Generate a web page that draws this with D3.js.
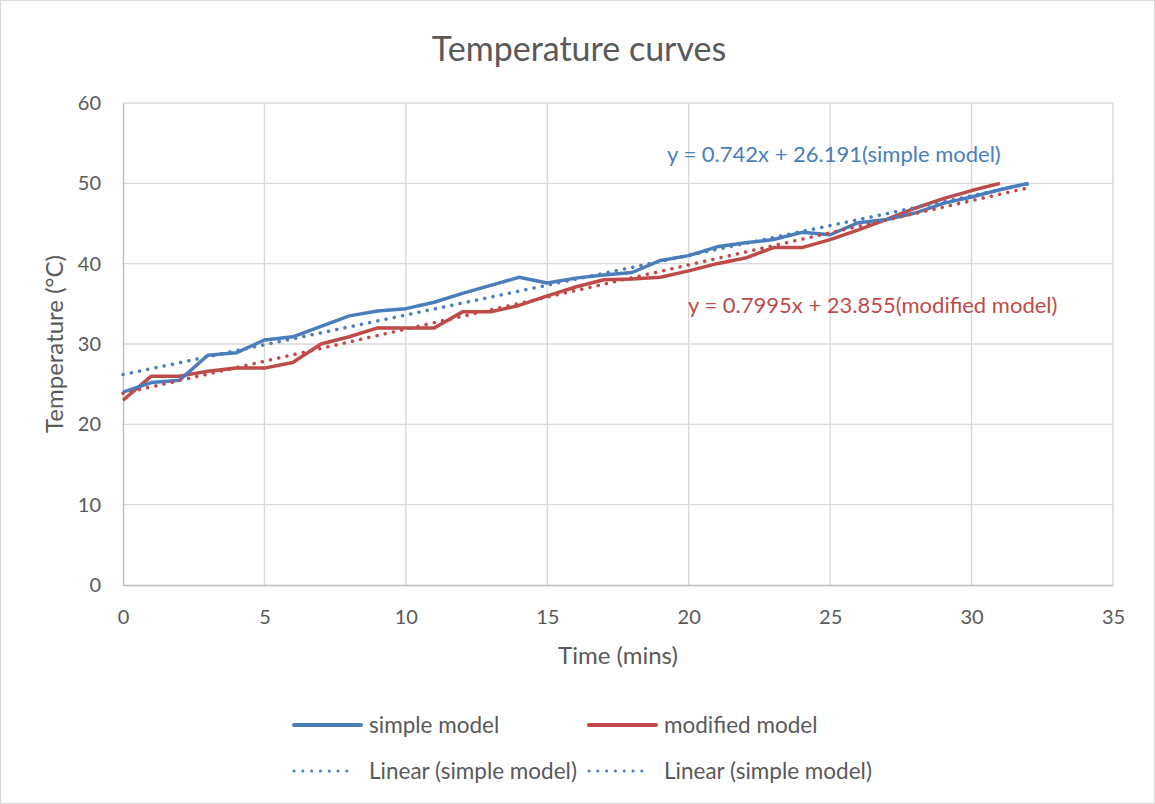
<!DOCTYPE html>
<meta charset="utf-8">
<style>
body { margin: 0; background: #fff; }
svg { font-family: Lato, "Open Sans", sans-serif; }
</style>
<svg width="1155" height="804"></svg>
<script src="https://d3js.org/d3.v7.min.js"></script>
<script>
// temperature readings, one per minute
var timeSimple = d3.range(0, 33);
var tempSimple = [24, 25.2, 25.5, 28.6, 28.9, 30.5, 30.9, 32.2, 33.5, 34.1, 34.4, 35.2,
  36.3, 37.3, 38.3, 37.6, 38.2, 38.6, 38.9, 40.4, 41.0, 42.1, 42.6, 43.0,
  43.9, 43.6, 45.1, 45.5, 46.3, 47.5, 48.3, 49.2, 50.0];
var timeModified = d3.range(0, 32);
var tempModified = [23, 26, 26, 26.6, 27, 27, 27.7, 30, 30.9, 32, 32, 32,
  34, 34, 34.8, 36, 37.1, 38, 38.1, 38.3, 39.1, 40, 40.7, 42,
  42, 43, 44.2, 45.5, 46.9, 48.1, 49.1, 50];

// trendlines (from Excel)
var trendSimple = { slope: 0.742, intercept: 26.191, label: "y = 0.742x + 26.191(simple model)" };
var trendModified = { slope: 0.7995, intercept: 23.855, label: "y = 0.7995x + 23.855(modified model)" };
var trendRange = [0, 32];

var legendLabels = ["simple model", "modified model", "Linear (simple model)", "Linear (simple model)"];

var blue = "#4A7EBB", red = "#BE4B48", textGrey = "#595959", grid = "#D9D9D9";

var svg = d3.select("svg");

svg.append("rect")
    .attr("x", 0.5).attr("y", 0.5)
    .attr("width", 1154).attr("height", 803)
    .attr("fill", "#fff").attr("stroke", grid);

var x = d3.scaleLinear().domain([0, 35]).range([123, 1113]);
var y = d3.scaleLinear().domain([0, 60]).range([585, 103]);

// gridlines
svg.append("g")
    .attr("stroke", grid).attr("stroke-width", 1.4)
  .selectAll("line.h")
  .data(d3.range(10, 61, 10))
  .join("line")
    .attr("x1", x(0)).attr("x2", x(35))
    .attr("y1", d => y(d)).attr("y2", d => y(d));

svg.append("g")
    .attr("stroke", grid).attr("stroke-width", 1.4)
  .selectAll("line")
  .data(d3.range(5, 36, 5))
  .join("line")
    .attr("x1", d => x(d)).attr("x2", d => x(d))
    .attr("y1", y(0)).attr("y2", y(60));

// axes
var xAxis = svg.append("g")
    .attr("transform", "translate(0," + y(0) + ")")
    .call(d3.axisBottom(x).tickValues(d3.range(0, 36, 5)).tickSize(0).tickPadding(25));
var yAxis = svg.append("g")
    .attr("transform", "translate(" + x(0) + ",0)")
    .call(d3.axisLeft(y).tickValues(d3.range(0, 61, 10)).tickSize(0).tickPadding(22));

[xAxis, yAxis].forEach(function(a) {
  a.attr("font-family", null).attr("font-size", 20);
  a.select(".domain").attr("stroke", "#BFBFBF").attr("stroke-width", 1.4);
  a.selectAll("text").attr("fill", textGrey);
});

// titles
svg.append("text")
    .attr("x", 579).attr("y", 61)
    .attr("text-anchor", "middle")
    .attr("font-size", 34)
    .attr("fill", textGrey)
    .text("Temperature curves");

svg.append("text")
    .attr("x", 618).attr("y", 664)
    .attr("text-anchor", "middle")
    .attr("font-size", 24)
    .attr("fill", textGrey)
    .text("Time (mins)");

svg.append("text")
    .attr("transform", "translate(63," + ((y(0) + y(60)) / 2) + ") rotate(-90)")
    .attr("text-anchor", "middle")
    .attr("font-size", 24)
    .attr("fill", textGrey)
    .text("Temperature (°C)");

// series
var line = d3.line().x(d => x(d[0])).y(d => y(d[1]));

function trendPoints(t) {
  return trendRange.map(v => [v, t.slope * v + t.intercept]);
}

svg.append("path")
    .datum(timeModified.map((t, i) => [t, tempModified[i]]))
    .attr("d", line)
    .attr("fill", "none").attr("stroke", red).attr("stroke-width", 3.5)
    .attr("stroke-linejoin", "round");

svg.append("path")
    .datum(timeSimple.map((t, i) => [t, tempSimple[i]]))
    .attr("d", line)
    .attr("fill", "none").attr("stroke", blue).attr("stroke-width", 3.5)
    .attr("stroke-linejoin", "round");

svg.append("path")
    .datum(trendPoints(trendModified))
    .attr("d", line)
    .attr("fill", "none").attr("stroke", red).attr("stroke-width", 3.5)
    .attr("stroke-dasharray", "0.1 8.3").attr("stroke-linecap", "round");

svg.append("path")
    .datum(trendPoints(trendSimple))
    .attr("d", line)
    .attr("fill", "none").attr("stroke", blue).attr("stroke-width", 3.5)
    .attr("stroke-dasharray", "0.1 8.3").attr("stroke-linecap", "round");

// trendline equations
svg.append("text")
    .attr("x", 667).attr("y", 162)
    .attr("font-size", 22).attr("fill", blue)
    .text(trendSimple.label);

svg.append("text")
    .attr("x", 688).attr("y", 313)
    .attr("font-size", 22).attr("fill", red)
    .text(trendModified.label);

// legend
var legendItems = [
  { label: legendLabels[0], color: blue, dotted: false, x: 294, y: 725 },
  { label: legendLabels[1], color: red, dotted: false, x: 589, y: 725 },
  { label: legendLabels[2], color: blue, dotted: true, x: 294, y: 771 },
  { label: legendLabels[3], color: blue, dotted: true, x: 589, y: 771 }
];

var lg = svg.append("g").selectAll("g")
  .data(legendItems)
  .join("g")
    .attr("transform", d => "translate(" + d.x + "," + d.y + ")");

lg.append("line")
    .attr("x1", 0).attr("x2", d => d.dotted ? 61 : 67)
    .attr("stroke", d => d.color)
    .attr("stroke-width", d => d.dotted ? 3 : 4)
    .attr("stroke-linecap", "round")
    .attr("stroke-dasharray", d => d.dotted ? "0.1 8.7" : null);

lg.append("text")
    .attr("x", 75)
    .attr("dy", "0.35em")
    .attr("font-size", 22.5)
    .attr("fill", textGrey)
    .text(d => d.label);
</script>
